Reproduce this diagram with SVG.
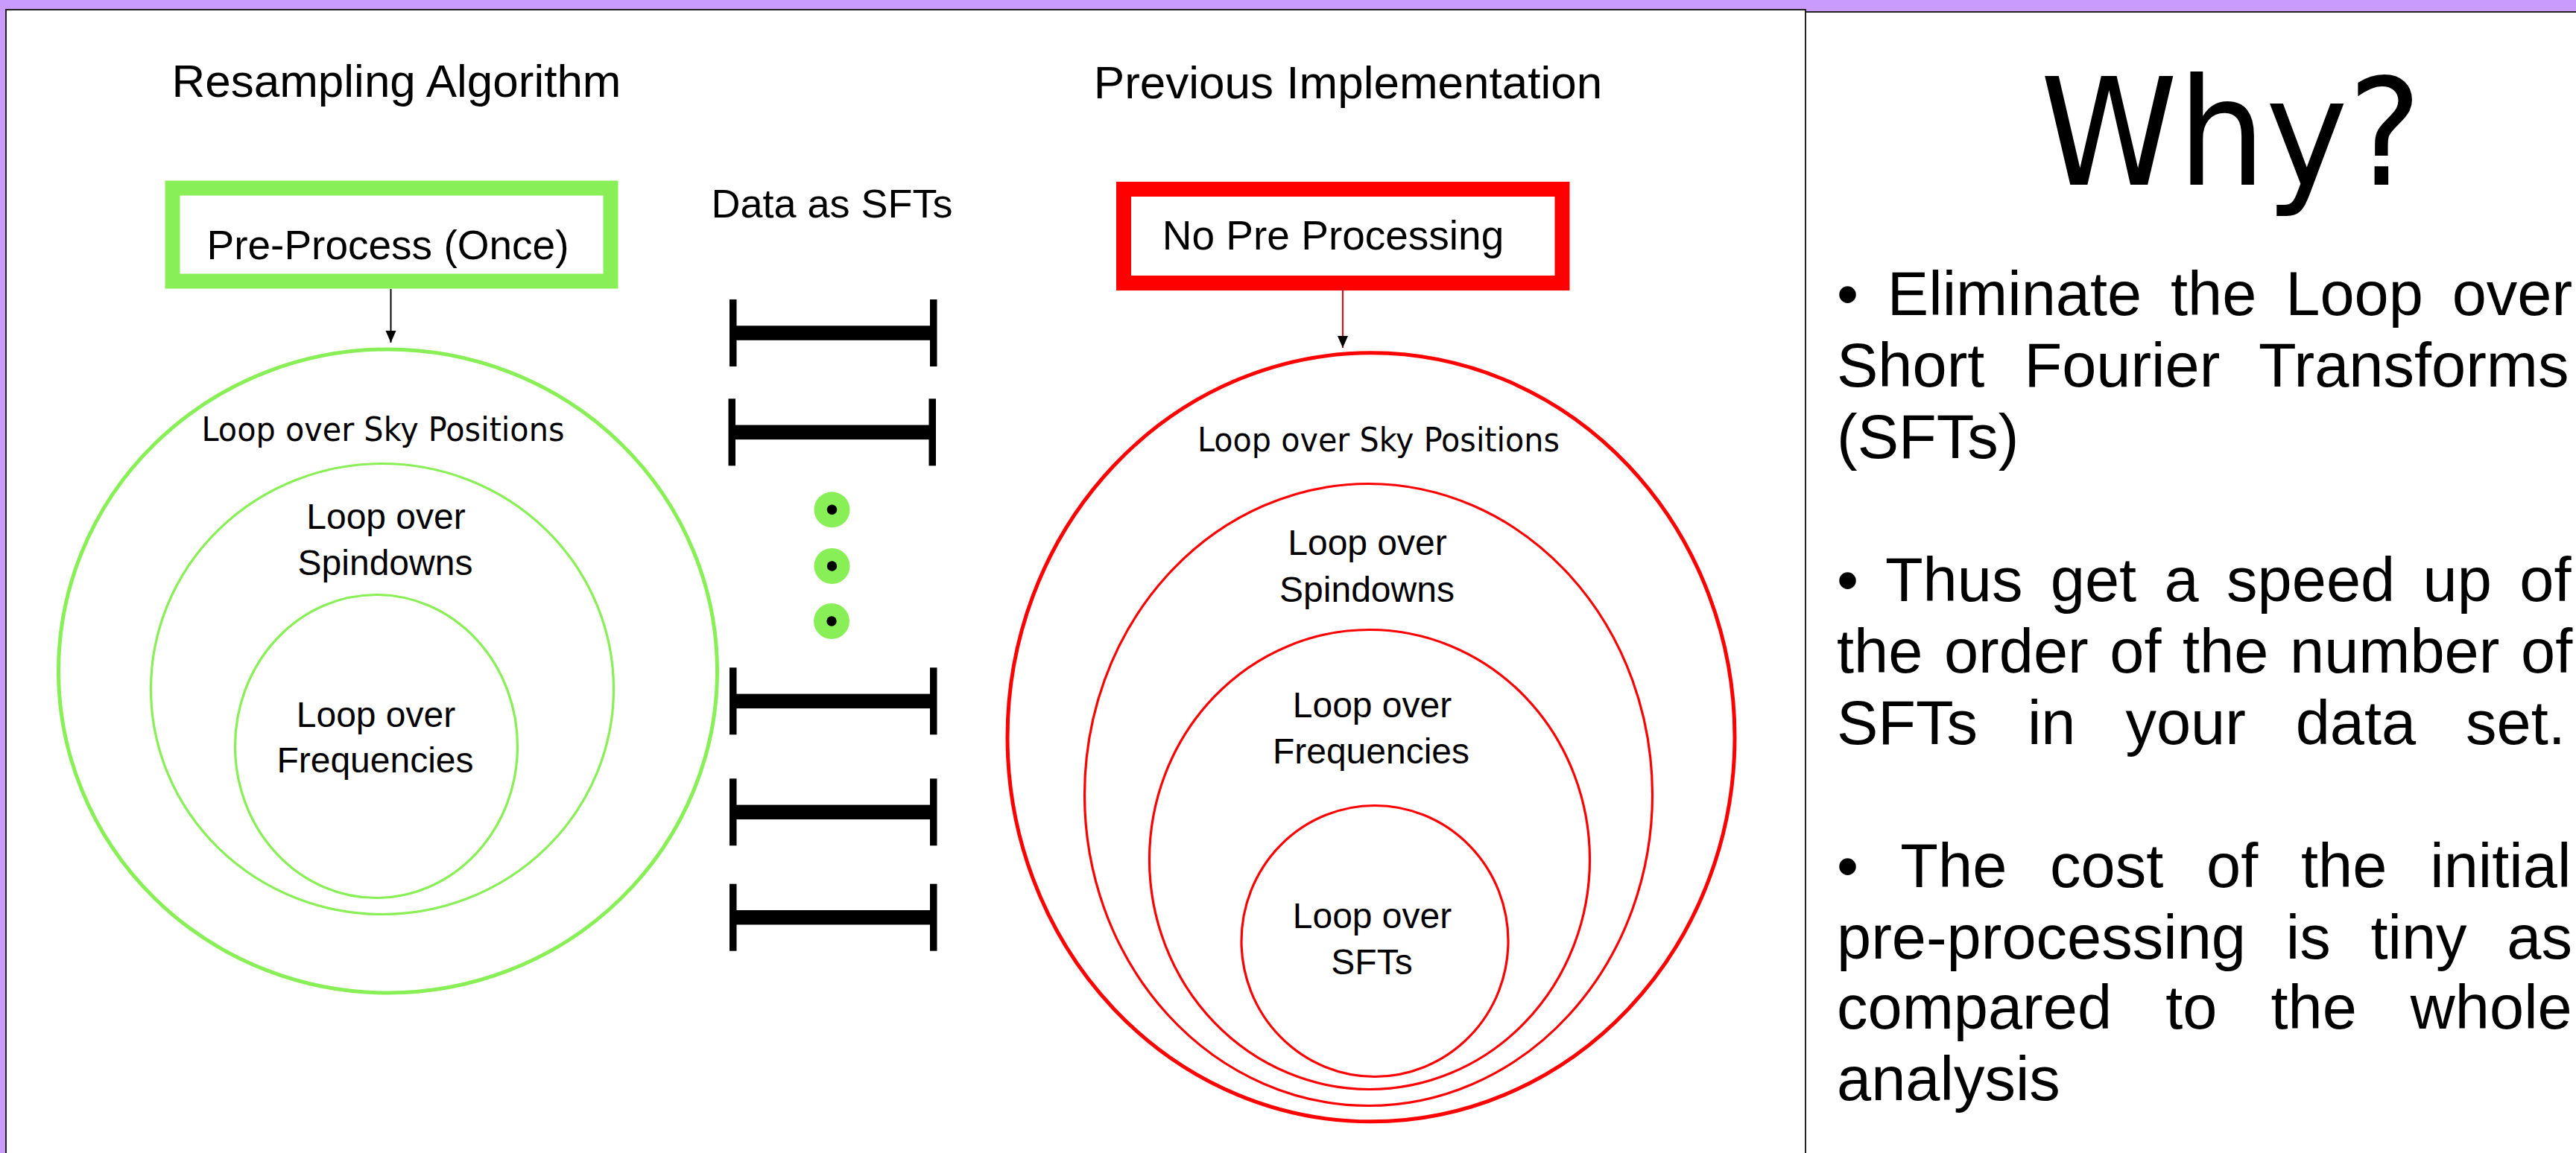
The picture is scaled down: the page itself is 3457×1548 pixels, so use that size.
<svg xmlns="http://www.w3.org/2000/svg" xmlns:xlink="http://www.w3.org/1999/xlink" width="3457" height="1548" viewBox="0 0 3457 1548">
  <style>
    .sans { font-family: "Liberation Sans", Arial, sans-serif; fill: #000; }
    .dv { font-family: "DejaVu Sans", sans-serif; fill: #000; }
    .mid { text-anchor: middle; }
    .head { font-size: 62px; }
    .label { font-size: 48px; }
    .sky { font-size: 44px; }
    .body { font-size: 83px; }
    .green { fill: none; stroke: #89ef57; }
    .red { fill: none; stroke: #ff0000; }
    .thick { stroke-width: 5; }
    .thin { stroke-width: 3.2; }
    .panel { fill: #fff; stroke: #222; stroke-width: 2; }
  </style>
  <defs>
    <marker id="arrow" viewBox="0 0 16 16" refX="16" refY="8" markerWidth="16" markerHeight="16" markerUnits="userSpaceOnUse" orient="auto">
      <path d="M0,1 L16,8 L0,15 Z" fill="#000"/>
    </marker>
    <!-- one SFT data segment: two end ticks joined by a heavy bar -->
    <symbol id="sft" overflow="visible">
      <rect x="979" y="-45" width="9.5" height="90" fill="#000"/>
      <rect x="1248" y="-45" width="9.5" height="90" fill="#000"/>
      <rect x="985" y="-9.7" width="268" height="19.5" fill="#000"/>
    </symbol>
    <symbol id="dot" overflow="visible">
      <circle cx="0" cy="0" r="24" fill="#89ef57"/>
      <circle cx="0" cy="0" r="6.7" fill="#000"/>
    </symbol>
  </defs>

  <!-- slide background and panels -->
  <rect x="0" y="0" width="3457" height="1548" fill="#c99bfa"/>
  <rect class="panel" x="8" y="13" width="2415" height="1545"/>
  <rect class="panel" x="2423" y="16" width="1045" height="1545"/>

  <!-- section headings -->
  <g id="titles">
    <text class="sans head mid" x="532" y="129.5">Resampling Algorithm</text>
    <text class="sans head mid" x="1809" y="131.5">Previous Implementation</text>
    <text class="sans mid" font-size="54" x="1116.5" y="292">Data as SFTs</text>
  </g>

  <!-- resampling side -->
  <g id="preprocess-once">
    <rect x="231.5" y="252.5" width="588" height="125" fill="#fff" stroke="#89ef57" stroke-width="20"/>
    <text class="sans mid" font-size="55" x="520.5" y="348">Pre-Process (Once)</text>
  </g>
  <g id="green-sky">
    <ellipse class="green thick" cx="520.5" cy="901" rx="442" ry="432"/>
    <text class="dv sky mid" x="514" y="592" textLength="487" lengthAdjust="spacingAndGlyphs">Loop over Sky Positions</text>
  </g>
  <g id="green-spindowns">
    <ellipse class="green thin" cx="513" cy="925" rx="310.5" ry="302.5"/>
    <text class="sans label mid" x="518" y="710">Loop over</text>
    <text class="sans label mid" x="517" y="772">Spindowns</text>
  </g>
  <g id="green-frequencies">
    <ellipse class="green thin" cx="505" cy="1002" rx="189.5" ry="203.5"/>
    <text class="sans label mid" x="504.5" y="976">Loop over</text>
    <text class="sans label mid" x="503.5" y="1037">Frequencies</text>
  </g>

  <!-- data column -->
  <g id="sft-data">
    <use xlink:href="#sft" x="0" y="447"/>
    <use xlink:href="#sft" x="-1.5" y="580.3"/>
    <use xlink:href="#dot" x="1116.5" y="684.3"/>
    <use xlink:href="#dot" x="1116.5" y="760"/>
    <use xlink:href="#dot" x="1116" y="834"/>
    <use xlink:href="#sft" x="0" y="941.3"/>
    <use xlink:href="#sft" x="0" y="1090.3"/>
    <use xlink:href="#sft" x="0" y="1231.7"/>
  </g>

  <!-- previous implementation side -->
  <g id="no-preprocessing">
    <rect x="1508" y="254" width="588.5" height="126" fill="#fff" stroke="#ff0000" stroke-width="20"/>
    <text class="sans mid" font-size="55" x="1789" y="335">No Pre Processing</text>
  </g>
  <g id="red-sky">
    <ellipse class="red thick" cx="1840" cy="989.8" rx="488" ry="516"/>
    <text class="dv sky mid" x="1850" y="605.5" textLength="486" lengthAdjust="spacingAndGlyphs">Loop over Sky Positions</text>
  </g>
  <g id="red-spindowns">
    <ellipse class="red thin" cx="1836.5" cy="1067" rx="381" ry="417.5"/>
    <text class="sans label mid" x="1835" y="745">Loop over</text>
    <text class="sans label mid" x="1834.5" y="807.5">Spindowns</text>
  </g>
  <g id="red-frequencies">
    <ellipse class="red thin" cx="1838" cy="1154" rx="295.5" ry="308.5"/>
    <text class="sans label mid" x="1841.5" y="963">Loop over</text>
    <text class="sans label mid" x="1840" y="1025">Frequencies</text>
  </g>
  <g id="red-sfts">
    <ellipse class="red thin" cx="1845" cy="1263.5" rx="179" ry="182"/>
    <text class="sans label mid" x="1841.5" y="1246">Loop over</text>
    <text class="sans label mid" x="1841" y="1308">SFTs</text>
  </g>

  <!-- connectors -->
  <g id="connectors">
    <line x1="524.5" y1="388" x2="524.5" y2="460" stroke="#000" stroke-width="2" marker-end="url(#arrow)"/>
    <line x1="1802" y1="390" x2="1802" y2="467" stroke="#ff0000" stroke-width="2" marker-end="url(#arrow)"/>
  </g>

  <!-- explanation panel -->
  <g id="why">
    <text class="dv mid" font-size="200" x="2994" y="248" textLength="512" lengthAdjust="spacingAndGlyphs">Why?</text>
    <text class="sans body" x="2465" y="423" word-spacing="15.75">• Eliminate the Loop over</text>
    <text class="sans body" x="2465" y="519" word-spacing="30">Short Fourier Transforms</text>
    <text class="sans body" x="2465" y="615">(SFTs)</text>
    <text class="sans body" x="2465" y="807" word-spacing="14.3">• Thus get a speed up of</text>
    <text class="sans body" x="2465" y="903" word-spacing="5.5">the order of the number of</text>
    <text class="sans body" x="2465" y="999" word-spacing="43.8">SFTs in your data set.</text>
    <text class="sans body" x="2465" y="1191" word-spacing="34.7">• The cost of the initial</text>
    <text class="sans body" x="2465" y="1287" word-spacing="30.7">pre-processing is tiny as</text>
    <text class="sans body" x="2465" y="1381" word-spacing="49">compared to the whole</text>
    <text class="sans body" x="2465" y="1477">analysis</text>
  </g>
</svg>
